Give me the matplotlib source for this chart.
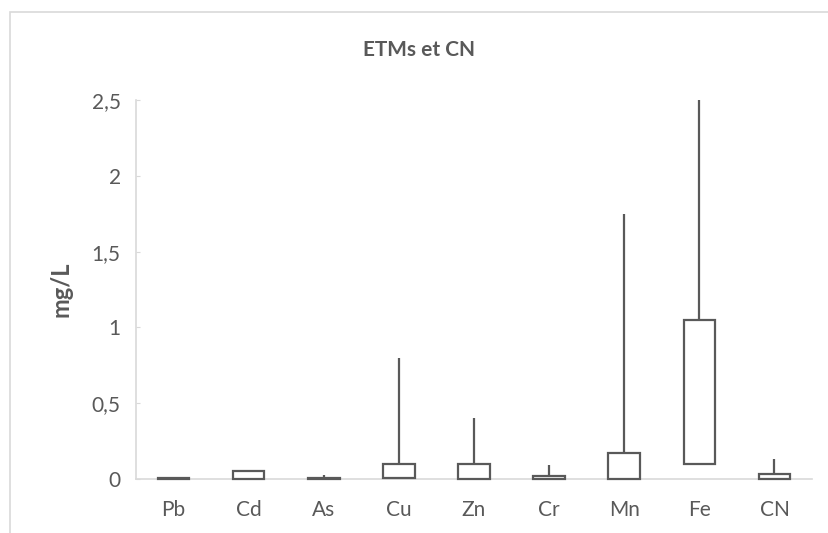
import matplotlib
matplotlib.use("Agg")
import matplotlib.pyplot as plt
from matplotlib.patches import Rectangle

categories = ["Pb", "Cd", "As", "Cu", "Zn", "Cr", "Mn", "Fe", "CN"]
box_low = [0.002, 0.0, 0.0, 0.005, 0.0, 0.0, 0.0, 0.1, 0.0]
box_high = [0.007, 0.05, 0.008, 0.1, 0.1, 0.02, 0.17, 1.05, 0.03]
whisker_max = [0.007, 0.05, 0.025, 0.8, 0.4, 0.09, 1.75, 2.5, 0.13]
yticks = [0, 0.5, 1, 1.5, 2, 2.5]
ytick_labels = ["0", "0,5", "1", "1,5", "2", "2,5"]

plt.rcParams['font.family'] = ['Lato', 'DejaVu Sans']
txt = '#595959'
edge = '#595959'
axc = '#D9D9D9'

W, H = 829, 533
fig = plt.figure(figsize=(W / 100, H / 100), dpi=100)
fig.patch.set_facecolor('white')

# outer chart border
fig.patches.append(Rectangle((10 / W, -0.05), 1.2, (H - 12) / H + 0.05,
                             transform=fig.transFigure, fill=False,
                             edgecolor=axc, linewidth=1.2))

ax = fig.add_axes([136 / W, 1 - 479 / H, (812 - 136) / W, (479 - 100) / H])
x = list(range(len(categories)))
heights = [h - l for h, l in zip(box_high, box_low)]
ax.vlines(x, box_high, whisker_max, color=edge, linewidth=1.6, zorder=3)
ax.bar(x, heights, bottom=box_low, width=0.42, facecolor='white',
       edgecolor=edge, linewidth=1.6, zorder=4, clip_on=False)

ax.set_xlim(-0.5, len(categories) - 0.5)
ax.set_ylim(0, 2.5)
ax.set_xticks(x)
ax.set_xticklabels(categories)
ax.set_yticks(yticks)
ax.set_yticklabels(ytick_labels)
for s in ['top', 'right']:
    ax.spines[s].set_visible(False)
for s in ['left', 'bottom']:
    ax.spines[s].set_color(axc)
    ax.spines[s].set_linewidth(1.2)
ax.tick_params(axis='x', length=0, pad=15, labelsize=15, labelcolor=txt)
ax.tick_params(axis='y', direction='in', length=3, color=axc, pad=11,
               labelsize=15, labelcolor=txt)
ax.set_ylabel('mg/L', fontsize=17, fontweight='bold', color=txt, labelpad=14)
fig.text(0.5 + 5 / W, 1 - 50 / H, 'ETMs et CN', ha='center', va='center',
         fontsize=15, fontweight='bold', color=txt)

fig.savefig('out.png', dpi=100, facecolor='white')
